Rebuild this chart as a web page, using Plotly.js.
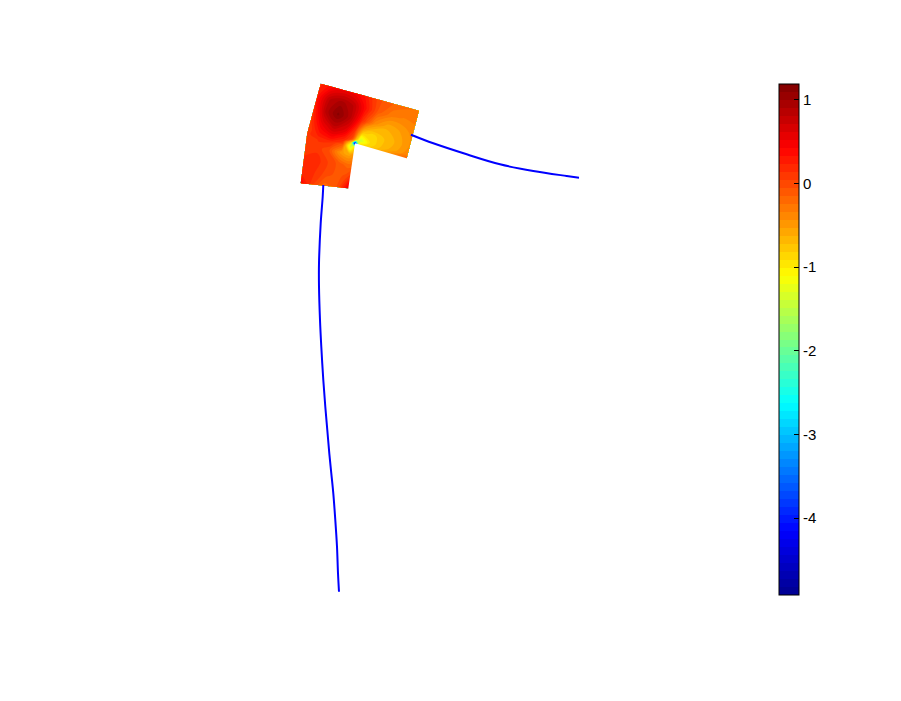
<!DOCTYPE html>
<html>
<head>
<meta charset="utf-8">
<script src="https://cdn.plot.ly/plotly-3.0.1.min.js"></script>
<style>
    body { margin: 0; background: #ffffff; }
    #chart { width: 901px; height: 701px; }
</style>
</head>
<body>
<div id="chart"></div>
<script>
// L-shaped domain: local coords u (across) and v (down), re-entrant corner at (0.5, 0.5)
// outline in view coords: top-left, top-mid, top-right, arm end, inner corner, leg end, bottom-left, left-mid
const outlineX = [3.207, 3.698, 4.190, 4.067, 3.550, 3.483, 3.007, 3.072];
const outlineY = [6.173, 6.038, 5.903, 5.427, 5.577, 5.127, 5.177, 5.675];

// grid nodes over the bounding square; the cut-out quadrant (u > 0.5, v > 0.5) has no data
const uNodes = [0, 0.125, 0.25, 0.375, 0.46, 0.5, 0.54, 0.625, 0.75, 0.875, 1];
const vNodes = [0, 0.125, 0.25, 0.375, 0.46, 0.5, 0.54, 0.625, 0.75, 0.875, 1];
const field = [
    [0.20, 0.40, 0.50, 0.45, 0.30, 0.20, 0.10, -0.05, -0.15, -0.22, -0.25],
    [0.30, 0.80, 0.95, 0.80, 0.50, 0.35, 0.20, -0.10, -0.30, -0.35, -0.32],
    [0.20, 0.85, 1.12, 0.85, 0.45, 0.20, 0.00, -0.40, -0.60, -0.52, -0.40],
    [0.10, 0.55, 0.80, 0.60, 0.15, -0.30, -0.75, -0.88, -0.72, -0.60, -0.42],
    [0.05, 0.35, 0.50, 0.30, 0.00, -0.70, -1.40, -0.92, -0.70, -0.55, -0.35],
    [0.10, 0.25, 0.35, 0.15, -0.90, -4.90, -1.00, -0.82, -0.60, -0.38, -0.15],
    [0.05, 0.15, 0.15, -0.10, -1.40, -1.00, null, null, null, null, null],
    [0.10, 0.10, -0.05, -0.50, -0.60, -0.50, null, null, null, null, null],
    [0.15, 0.20, 0.05, -0.10, -0.20, -0.20, null, null, null, null, null],
    [0.15, 0.15, 0.00, -0.10, 0.00, 0.10, null, null, null, null, null],
    [0.45, 0.05, -0.20, -0.05, 0.30, 0.60, null, null, null, null, null]
];

// the two wires leaving the patch
const wireAX = [4.11, 4.333, 4.667, 5.00, 5.333, 5.667, 5.79];
const wireAY = [5.663, 5.577, 5.467, 5.367, 5.30, 5.25, 5.233];
const wireBX = [3.233, 3.227, 3.207, 3.19, 3.19, 3.20, 3.213, 3.233, 3.253, 3.273, 3.293, 3.313, 3.333, 3.353, 3.37, 3.38, 3.39];
const wireBY = [5.16, 5.043, 4.777, 4.377, 4.143, 3.81, 3.543, 3.21, 2.943, 2.71, 2.477, 2.277, 2.077, 1.81, 1.543, 1.277, 1.093];

const zMin = -4.92;
const zMax = 1.19;
const colorTicks = [-4, -3, -2, -1, 0, 1];

const jet = [
    [0, '#00008f'], [0.125, '#0000ff'], [0.375, '#00ffff'],
    [0.625, '#ffff00'], [0.875, '#ff0000'], [1, '#800000']
];

const pt = i => [outlineX[i], outlineY[i]];
// far corner of the cut-out quadrant (only used to span the grid, then masked)
const farCorner = [0, 1].map(k => pt(3)[k] + pt(5)[k] - pt(4)[k]);

// bilinear map of a local (s, t) in [0,1]^2 onto a quad
function bilin(q, s, t) {
    return [0, 1].map(k =>
        (1 - s) * (1 - t) * q[0][k] + s * (1 - t) * q[1][k] + (1 - s) * t * q[2][k] + s * t * q[3][k]);
}

const quadA = [pt(0), pt(1), pt(7), pt(4)];       // top-left square
const quadB = [pt(1), pt(2), pt(4), pt(3)];       // right arm
const quadC = [pt(7), pt(4), pt(6), pt(5)];       // lower leg
const quadD = [pt(4), pt(3), pt(5), farCorner];   // cut-out

function place(u, v) {
    const s = u <= 0.5 ? u / 0.5 : (u - 0.5) / 0.5;
    const t = v <= 0.5 ? v / 0.5 : (v - 0.5) / 0.5;
    if (v <= 0.5) return bilin(u <= 0.5 ? quadA : quadB, s, t);
    return bilin(u <= 0.5 ? quadC : quadD, s, t);
}

const gridX = vNodes.map(v => uNodes.map(u => place(u, v)[0]));
const gridY = vNodes.map(v => uNodes.map(u => place(u, v)[1]));

const hiddenCarpetAxis = {
    showgrid: false, showline: false, startline: false, endline: false,
    showticklabels: 'none', smoothing: 0, minorgridcount: 0
};

// white mask over the cut-out, its outer edges pushed past the grid so no rim shows
const grow = (p, f) => [0, 1].map(k => pt(4)[k] + f * (p[k] - pt(4)[k]));
const cutout = [pt(4), grow(pt(3), 1.08), grow(farCorner, 1.15), grow(pt(5), 1.08)];

const data = [
    {
        type: 'carpet', carpet: 'domain', a: uNodes, b: vNodes, x: gridX, y: gridY,
        aaxis: hiddenCarpetAxis, baxis: hiddenCarpetAxis,
        color: 'rgba(0,0,0,0)', hoverinfo: 'skip'
    },
    {
        type: 'contourcarpet', carpet: 'domain', a: uNodes, b: vNodes, z: field,
        colorscale: jet, zauto: false, zmin: zMin, zmax: zMax,
        autocontour: false,
        contours: { start: zMin, end: zMax, size: (zMax - zMin) / 64, coloring: 'fill', showlines: false },
        line: { width: 0 },
        showscale: true,
        colorbar: {
            x: 779 / 760, xanchor: 'left', xpad: 0,
            y: (701 - 339.5) / 701, yanchor: 'middle', ypad: 0,
            thickness: 20, lenmode: 'pixels', len: 511,
            outlinecolor: '#000000', outlinewidth: 1,
            tickmode: 'array', tickvals: colorTicks, ticktext: colorTicks.map(String),
            ticks: 'inside', ticklen: 5, tickcolor: '#000000',
            tickfont: { family: 'Liberation Sans, Arial, sans-serif', size: 15, color: '#000000' }
        }
    },
    {
        x: cutout.map(p => p[0]), y: cutout.map(p => p[1]),
        type: 'scatter', mode: 'lines', fill: 'toself', fillcolor: '#ffffff',
        line: { width: 0, color: '#ffffff' }, hoverinfo: 'skip', showlegend: false
    },
    {
        x: wireAX, y: wireAY, type: 'scatter', mode: 'lines',
        line: { color: '#0000ff', width: 2, shape: 'spline', smoothing: 1 },
        hoverinfo: 'skip', showlegend: false
    },
    {
        x: wireBX, y: wireBY, type: 'scatter', mode: 'lines',
        line: { color: '#0000ff', width: 2, shape: 'spline', smoothing: 1 },
        hoverinfo: 'skip', showlegend: false
    }
];

const layout = {
    width: 901,
    height: 701,
    margin: { l: 0, r: 141, t: 0, b: 0 },
    xaxis: { range: [0, 7.6], visible: false, fixedrange: true },
    yaxis: { range: [0, 7.01], visible: false, fixedrange: true },
    showlegend: false,
    plot_bgcolor: '#ffffff',
    paper_bgcolor: '#ffffff'
};

Plotly.newPlot('chart', data, layout, { staticPlot: true, displayModeBar: false });
</script>
</body>
</html>
